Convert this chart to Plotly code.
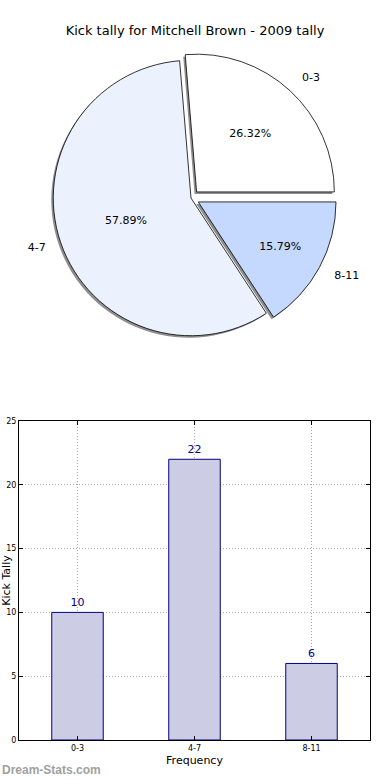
import plotly.graph_objects as go

categories = ["0-3", "4-7", "8-11"]
kicks = [10, 22, 6]
pie_colors = ["#ffffff", "#ebf2fe", "#c5d9fe"]
pie_pull = [0.06, 0.0, 0.06]
y_ticks = [0, 5, 10, 15, 20, 25]

title_text = "Kick tally for Mitchell Brown - 2009 tally"
x_title = "Frequency"
y_title = "Kick Tally"
watermark = "Dream-Stats.com"

W, H = 390, 780
FONT = "DejaVu Sans"

# first slice starts at 3 o'clock and runs counterclockwise (matplotlib style)
start_rot = 90 - 360 * kicks[0] / sum(kicks)

# pie geometry (pixels)
cx, cy, half = 191, 198, 146


def dom(c_x, c_y, h, dx=0.0, dy=0.0):
    return dict(x=[(c_x - h + dx) / W, (c_x + h + dx) / W],
                y=[1 - (c_y + h + dy) / H, 1 - (c_y - h + dy) / H])


fig = go.Figure()

# invisible, slightly larger pie that carries the outside category labels
fig.add_trace(go.Pie(
    labels=categories, values=kicks, sort=False,
    direction="counterclockwise", rotation=start_rot, pull=pie_pull,
    marker=dict(colors=["rgba(0,0,0,0)"] * len(kicks), line=dict(width=0)),
    domain=dom(cx, cy, half * 1.09),
    texttemplate="%{label}", textposition="outside",
    textfont=dict(family=FONT, size=11, color="#000000"),
    hoverinfo="skip", showlegend=False,
))

# shadow pie
fig.add_trace(go.Pie(
    labels=categories, values=kicks, sort=False,
    direction="counterclockwise", rotation=start_rot, pull=pie_pull,
    marker=dict(colors=["#8e8e8e"] * len(kicks), line=dict(width=0)),
    domain=dom(cx, cy, half, -2, 2),
    textinfo="none",
    hoverinfo="skip", showlegend=False,
))

# main pie
fig.add_trace(go.Pie(
    labels=categories, values=kicks, sort=False,
    direction="counterclockwise", rotation=start_rot, pull=pie_pull,
    marker=dict(colors=pie_colors, line=dict(color="#000000", width=0.8)),
    domain=dom(cx, cy, half),
    texttemplate="%{percent:.2%}", textposition="inside",
    insidetextorientation="horizontal",
    textfont=dict(family=FONT, size=11, color="#000000"),
    showlegend=False,
))

# bar chart
fig.add_trace(go.Bar(
    x=categories, y=kicks, width=0.44,
    marker=dict(color="#ccccE4", line=dict(color="#000080", width=1)),
    text=[str(v) for v in kicks], textposition="outside",
    textfont=dict(family=FONT, size=11, color="#00008b"),
    cliponaxis=False, showlegend=False,
    xaxis="x", yaxis="y",
))

grid_dash = "1px,2px"

fig.update_layout(
    width=W, height=H,
    margin=dict(l=0, r=0, t=0, b=0),
    paper_bgcolor="white", plot_bgcolor="white",
    font=dict(family=FONT, color="#000000"),
    title=dict(text=title_text, x=0.5, xanchor="center", y=1 - 30 / H,
               yanchor="middle", yref="container", automargin=False,
               font=dict(family=FONT, size=13, color="#000000")),
    xaxis=dict(
        domain=[19 / W, 370 / W], range=[-0.5, 2.5], type="category",
        showline=True, linecolor="#000000", linewidth=1, mirror="ticks",
        ticks="inside", ticklen=4, tickcolor="#000000",
        showgrid=True, gridcolor="#a8a8a8", griddash=grid_dash, gridwidth=1,
        tickfont=dict(family=FONT, size=8, color="#000000"),
        title=dict(text=x_title, font=dict(family=FONT, size=11, color="#000000"), standoff=4),
        zeroline=False, anchor="y", automargin=False,
    ),
    yaxis=dict(
        domain=[1 - 740 / H, 1 - 421 / H], range=[0, 25],
        tickvals=y_ticks,
        showline=True, linecolor="#000000", linewidth=1, mirror="ticks",
        ticks="inside", ticklen=4, tickcolor="#000000",
        showgrid=True, gridcolor="#a8a8a8", griddash=grid_dash, gridwidth=1,
        tickfont=dict(family=FONT, size=8, color="#000000"),
        title=dict(text=y_title, font=dict(family=FONT, size=11, color="#000000"), standoff=0),
        zeroline=False, anchor="x", automargin=False,
    ),
    annotations=[dict(
        text="<b>" + watermark + "</b>", x=0, y=1 - 770 / H, xref="paper", yref="paper",
        xanchor="left", yanchor="middle", showarrow=False,
        font=dict(family="Liberation Sans", size=12, color="#a0a0a0"),
    )],
)

fig.write_html("out.html", config={"displayModeBar": False},
               post_script="document.body.style.margin='0';document.body.style.padding='0';")
